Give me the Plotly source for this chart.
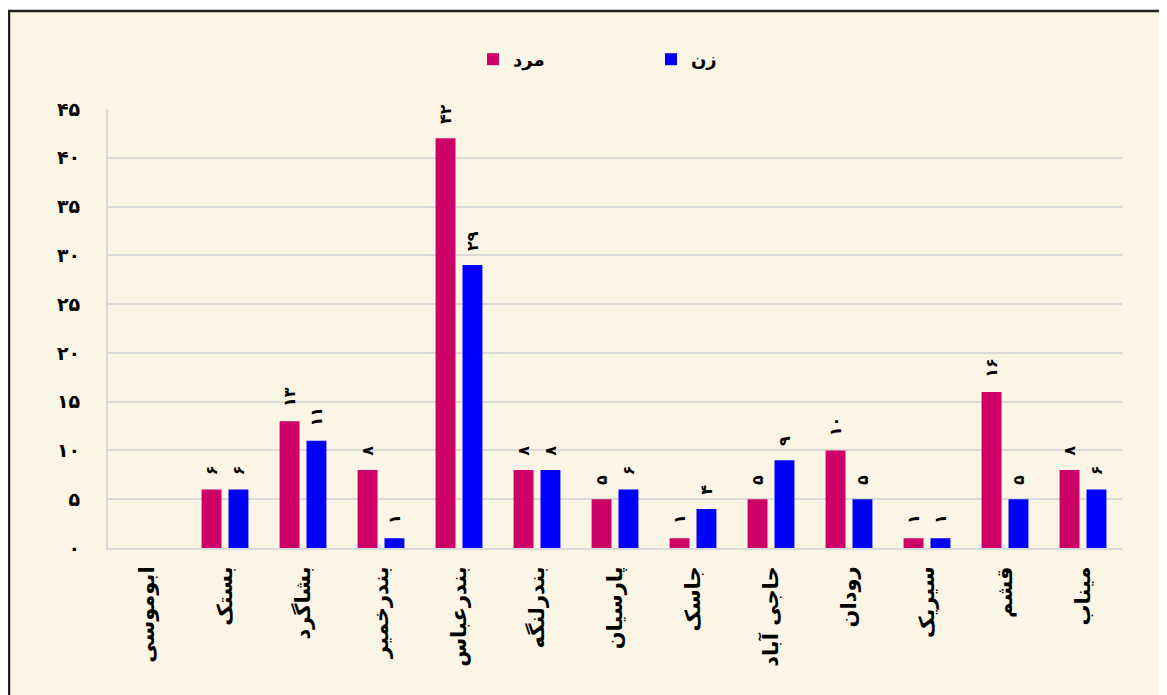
import plotly.graph_objects as go

categories = ["ابوموسی", "بستک", "بشاگرد", "بندرخمیر", "بندرعباس", "بندرلنگه",
              "پارسیان", "جاسک", "حاجی آباد", "رودان", "سیریک", "قشم", "میناب"]
men = [0, 6, 13, 8, 42, 8, 5, 1, 5, 10, 1, 16, 8]
women = [0, 6, 11, 1, 29, 8, 6, 4, 9, 5, 1, 5, 6]
series_names = ["مرد", "زن"]
y_ticks = [0, 5, 10, 15, 20, 25, 30, 35, 40, 45]

FA = str.maketrans("0123456789", "۰۱۲۳۴۵۶۷۸۹")
def fa(n):
    return str(n).translate(FA)

def labels(vals):
    return ["\u00a0\u00a0" + fa(v) if v else "" for v in vals]

FONT = "DejaVu Sans"
OFF = 8  # browser body margin

fig = go.Figure()
for name, vals, color in [(series_names[0], men, "#CC0066"), (series_names[1], women, "#0000FF")]:
    fig.add_trace(go.Bar(
        x=categories, y=vals, name=name,
        marker=dict(color=color, line=dict(color=color, width=0)),
        text=labels(vals), textposition="outside", textangle=-90,
        constraintext="none", cliponaxis=False,
        textfont=dict(family=FONT, size=16, color="black", weight="bold"),
    ))

W, H = 1159, 687
L, T = 108 - OFF, 109 - OFF
R = W - (1122 - OFF)
B = H - (548 - OFF)
pw, ph = W - L - R, H - T - B
def px(x):
    return (x - OFF - L) / pw
def py(y):
    return (H - B - (y - OFF)) / ph

fig.update_layout(
    width=W, height=H,
    margin=dict(l=L, r=R, t=T, b=B),
    paper_bgcolor="white",
    plot_bgcolor="rgba(0,0,0,0)",
    barmode="group", bargap=0.31, bargroupgap=0.26,
    font=dict(family=FONT, color="black"),
    showlegend=True,
    legend=dict(orientation="h", x=px(473), y=py(41), xanchor="left", yanchor="top",
                font=dict(family=FONT, size=18, color="black", weight="bold"),
                bgcolor="rgba(0,0,0,0)", itemwidth=30, entrywidth=133, entrywidthmode="pixels",
                traceorder="normal"),
    shapes=[dict(type="rect", xref="paper", yref="paper",
                 x0=px(9), x1=px(1200), y0=py(730), y1=py(11),
                 fillcolor="#FBF5E5", line=dict(color="#222222", width=2.5),
                 layer="below")],
)
fig.update_xaxes(
    tickangle=-90, tickfont=dict(family=FONT, size=21, color="black", weight="bold"),
    showline=True, linecolor="#D9D9D9", linewidth=2,
    showgrid=False, ticks="", ticklabelstandoff=8,
)
fig.update_yaxes(
    range=[0, 45], tickvals=y_ticks, ticktext=[fa(v) for v in y_ticks],
    tickfont=dict(family=FONT, size=19, color="black", weight="bold"),
    showline=True, linecolor="#D9D9D9", linewidth=2,
    showgrid=True, gridcolor="#D9D9D9", gridwidth=1.5,
    zeroline=False, ticks="", ticklabelstandoff=22,
)
fig.write_html("out.html")
